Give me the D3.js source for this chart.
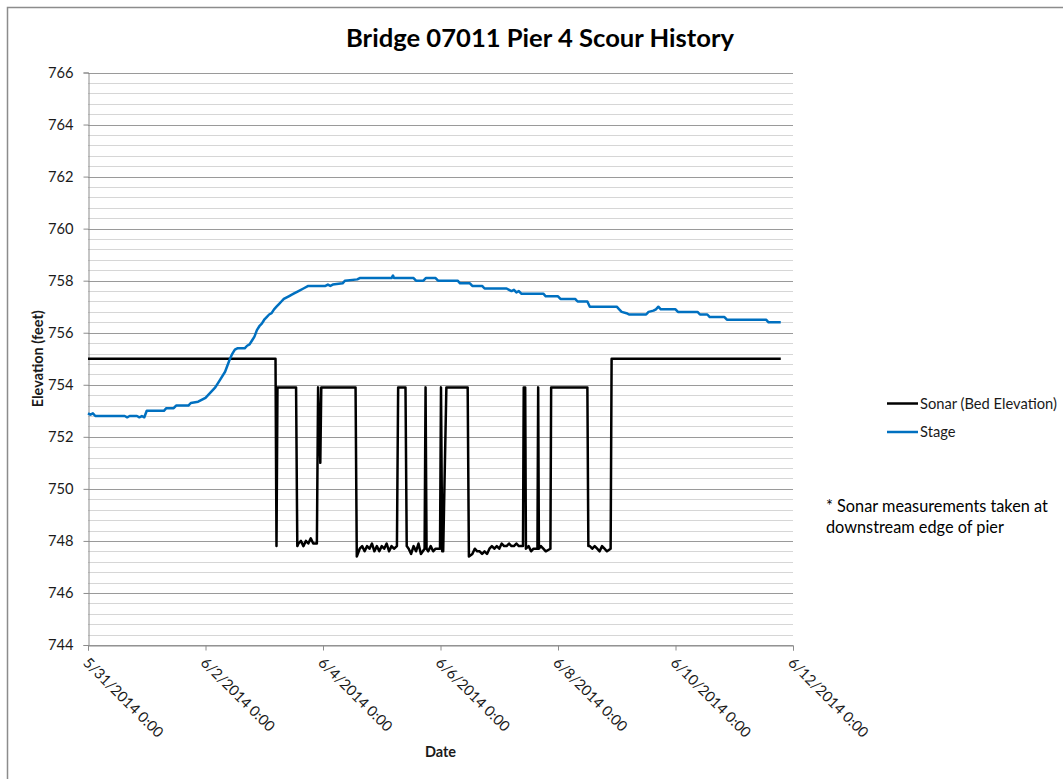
<!DOCTYPE html>
<html>
<head>
<meta charset="utf-8">
<script src="https://cdn.jsdelivr.net/npm/d3@7"></script>
<style>
  html, body { margin: 0; padding: 0; background: #fff; }
  svg text { font-family: Lato, "Open Sans", sans-serif; }
</style>
</head>
<body>
<svg id="chart" width="1063" height="779"></svg>
<script>
// Record start; readings are stored as hours elapsed since this moment.
const recordStart = new Date(2014, 4, 31, 0, 0);

// Sonar bed elevation (feet), [hours since start, elevation]
const sonarReadings = [
  [0, 755.0], [76.6, 755.0], [77.0, 747.8], [77.4, 753.9], [85.0, 753.9], [85.5, 747.8],
  [86, 747.9], [87, 748.0], [88, 747.8], [89, 748.0], [90, 747.9], [91, 748.1], [92, 747.9], [93.5, 747.9],
  [94.0, 753.9], [94.9, 751.0], [95.3, 753.9], [109.3, 753.9], [109.8, 747.4],
  [111, 747.7], [112, 747.8], [113, 747.6], [114, 747.8], [115, 747.7], [116, 747.9], [117, 747.6],
  [118, 747.8], [119, 747.6], [120, 747.8], [121, 747.7], [122, 747.9], [123, 747.6], [124, 747.8],
  [125, 747.7], [126.2, 747.8], [126.7, 753.9], [129.7, 753.9], [130.2, 747.8],
  [131, 747.7], [132, 747.5], [133, 747.8], [134, 747.6], [135, 747.9], [136, 747.5], [137.5, 747.7],
  [137.9, 753.9], [138.3, 747.7], [139, 747.6], [140, 747.8], [141, 747.6], [142, 747.7], [143.8, 747.7],
  [144.2, 753.9], [144.7, 747.6], [145.1, 747.6], [146.4, 753.9], [155.1, 753.9], [155.6, 747.4],
  [157, 747.5], [158, 747.7], [159, 747.6], [160, 747.6], [161, 747.5], [162, 747.6], [163, 747.5],
  [164, 747.7], [165, 747.8], [166, 747.7], [167, 747.8], [168, 747.7], [169, 747.9], [170, 747.8],
  [171, 747.8], [172, 747.9], [173, 747.8], [174, 747.8], [175, 747.9], [176, 747.8], [177.7, 747.8],
  [178.0, 753.9], [178.6, 753.9], [178.9, 747.7], [180, 747.8], [181, 747.6], [182, 747.7], [183.6, 747.7],
  [183.9, 753.9], [184.2, 747.7], [185, 747.8], [186, 747.7], [187, 747.6], [188.9, 747.7],
  [189.2, 753.9], [204.0, 753.9], [204.4, 747.8], [205, 747.8], [206, 747.7], [207, 747.8], [208, 747.7],
  [209, 747.6], [210, 747.8], [211, 747.7], [212, 747.6], [213.5, 747.7], [213.9, 755.0], [283, 755.0]
];

// River stage (feet), [hours since start, elevation]
const stageReadings = [
  [0, 752.9], [1, 752.85], [2, 752.9], [3, 752.8], [15, 752.8], [16, 752.75], [17, 752.8], [20, 752.8],
  [21, 752.75], [22, 752.8], [23, 752.75], [24, 753.0], [31, 753.0], [32, 753.1], [35, 753.1], [36, 753.2],
  [41, 753.2], [42, 753.3], [45, 753.35], [47, 753.45], [48, 753.5], [50, 753.7], [52, 753.9], [54, 754.2],
  [56, 754.5], [57, 754.75], [58, 755.0], [59, 755.2], [60, 755.35], [61, 755.4], [64, 755.4], [65, 755.5],
  [66, 755.55], [67, 755.7], [68, 755.85], [69, 756.1], [70, 756.25], [71, 756.35], [72, 756.5], [73, 756.6],
  [74, 756.7], [75, 756.75], [76, 756.9], [77, 757.0], [78, 757.1], [79, 757.2], [80, 757.3], [81, 757.35],
  [82, 757.4], [84, 757.5], [86, 757.6], [88, 757.7], [90, 757.8], [97, 757.8], [98, 757.85], [99, 757.8],
  [100, 757.85], [104, 757.9], [105, 758.0], [110, 758.05], [111, 758.1], [124, 758.1], [124.6, 758.2],
  [125, 758.1], [133, 758.1], [134, 758.0], [137, 758.0], [138, 758.1], [142, 758.1], [143, 758.0],
  [151, 758.0], [152, 757.9], [156, 757.9], [157, 757.8], [161, 757.8], [162, 757.7], [171, 757.7],
  [172, 757.65], [173, 757.6], [174, 757.65], [175, 757.55], [176, 757.6], [177, 757.5], [186, 757.5],
  [187, 757.4], [192, 757.4], [193, 757.3], [199, 757.3], [200, 757.2], [204, 757.2], [205, 757.0],
  [216, 757.0], [217, 756.9], [218, 756.8], [220, 756.75], [221, 756.7], [228, 756.7], [229, 756.8],
  [231, 756.85], [232, 756.9], [233, 757.0], [234, 756.9], [240, 756.9], [241, 756.8], [249, 756.8],
  [250, 756.7], [253, 756.7], [254, 756.6], [260, 756.6], [261, 756.5], [277, 756.5], [278, 756.4],
  [283, 756.4]
];

const seriesNames = ["Sonar (Bed Elevation)", "Stage"];
const seriesColors = ["#000000", "#0070C0"];
const yMajorTicks = [744, 746, 748, 750, 752, 754, 756, 758, 760, 762, 764, 766];
const xTickDates = [
  new Date(2014, 4, 31), new Date(2014, 5, 2), new Date(2014, 5, 4), new Date(2014, 5, 6),
  new Date(2014, 5, 8), new Date(2014, 5, 10), new Date(2014, 5, 12)
];
const chartTitle = "Bridge 07011 Pier 4 Scour History";
const footnoteLines = ["* Sonar measurements taken at", "downstream edge of pier"];

const svg = d3.select("#chart");
const plot = { left: 88, right: 793, top: 72.5, bottom: 645 };

const x = d3.scaleTime()
  .domain([xTickDates[0], xTickDates[xTickDates.length - 1]])
  .range([plot.left, plot.right]);
const y = d3.scaleLinear().domain([744, 766]).range([plot.bottom, plot.top]);

// Outer chart frame
svg.append("rect")
  .attr("x", 7.5).attr("y", 7.5).attr("width", 1200).attr("height", 900)
  .attr("fill", "#fff").attr("stroke", "#8c8c8c").attr("stroke-width", 1.5);

// Minor gridlines every 0.4 ft (skipping the major positions)
const minorVals = d3.range(0, 56).map(i => 744 + i * 0.4)
  .filter(v => Math.abs((v - 744) % 2) > 0.01 && Math.abs((v - 744) % 2 - 2) > 0.01);
svg.append("g").selectAll("line").data(minorVals).join("line")
  .attr("x1", plot.left).attr("x2", plot.right)
  .attr("y1", d => Math.round(y(d)) + 0.5).attr("y2", d => Math.round(y(d)) + 0.5)
  .attr("stroke", "#d6d6d6").attr("stroke-width", 1);

// Major gridlines
svg.append("g").selectAll("line").data(yMajorTicks).join("line")
  .attr("x1", plot.left).attr("x2", plot.right)
  .attr("y1", d => Math.round(y(d)) + 0.5).attr("y2", d => Math.round(y(d)) + 0.5)
  .attr("stroke", "#9a9a9a").attr("stroke-width", 1);

// Y axis
const yAxis = svg.append("g")
  .attr("transform", `translate(${plot.left + 0.5},0)`)
  .call(d3.axisLeft(y).tickValues(yMajorTicks).tickSize(5).tickPadding(10).tickFormat(d3.format("d")));
yAxis.select(".domain").attr("stroke", "#8c8c8c");
yAxis.selectAll(".tick line").attr("stroke", "#8c8c8c");
yAxis.selectAll("text").attr("font-size", "14.7px").attr("fill", "#1a1a1a");

// X axis
const xAxis = svg.append("g")
  .attr("transform", `translate(0,${Math.round(plot.bottom) + 0.5})`)
  .call(d3.axisBottom(x).tickValues(xTickDates).tickSize(5).tickFormat(() => ""));
xAxis.select(".domain").attr("stroke", "#8c8c8c");
xAxis.selectAll(".tick line").attr("stroke", "#8c8c8c");

const fmt = d3.timeFormat("%-m/%-d/%Y %-H:%M");
svg.append("g").selectAll("text").data(xTickDates).join("text")
  .attr("transform", d => `translate(${x(d) - 2},${plot.bottom + 15}) rotate(45)`)
  .attr("dy", "0.35em")
  .attr("font-size", "14.7px").attr("fill", "#1a1a1a")
  .text(d => fmt(d));

// Axis titles
svg.append("text")
  .attr("x", (plot.left + plot.right) / 2).attr("y", 757)
  .attr("text-anchor", "middle").attr("font-size", "14.5px").attr("font-weight", "bold").attr("fill", "#1a1a1a")
  .text("Date");
svg.append("text")
  .attr("transform", `translate(43,${(plot.top + plot.bottom) / 2}) rotate(-90)`)
  .attr("text-anchor", "middle").attr("font-size", "14.5px").attr("font-weight", "bold").attr("fill", "#1a1a1a")
  .text("Elevation (feet)");

// Title
svg.append("text")
  .attr("x", 540).attr("y", 47)
  .attr("text-anchor", "middle").attr("font-size", "25.6px").attr("font-weight", "bold").attr("fill", "#000")
  .text(chartTitle);

// Series lines
const line = d3.line()
  .x(d => x(d3.timeMinute.offset(recordStart, Math.round(d[0] * 60))))
  .y(d => y(d[1]));

[sonarReadings, stageReadings].forEach((data, i) => {
  svg.append("path")
    .datum(data)
    .attr("fill", "none")
    .attr("stroke", seriesColors[i])
    .attr("stroke-width", 2.5)
    .attr("stroke-linejoin", "round")
    .attr("d", line);
});

// Legend
const legend = svg.append("g");
seriesNames.forEach((name, i) => {
  const ly = 403.5 + i * 28.5;
  legend.append("line")
    .attr("x1", 887).attr("x2", 918).attr("y1", ly).attr("y2", ly)
    .attr("stroke", seriesColors[i]).attr("stroke-width", 2.5);
  legend.append("text")
    .attr("x", 920).attr("y", ly).attr("dy", "0.35em")
    .attr("font-size", "14.7px").attr("fill", "#1a1a1a")
    .text(name);
});

// Footnote
footnoteLines.forEach((t, i) => {
  svg.append("text")
    .attr("x", 826).attr("y", 512 + i * 21)
    .attr("font-size", "16.3px").attr("fill", "#000")
    .text(t);
});
</script>
</body>
</html>
